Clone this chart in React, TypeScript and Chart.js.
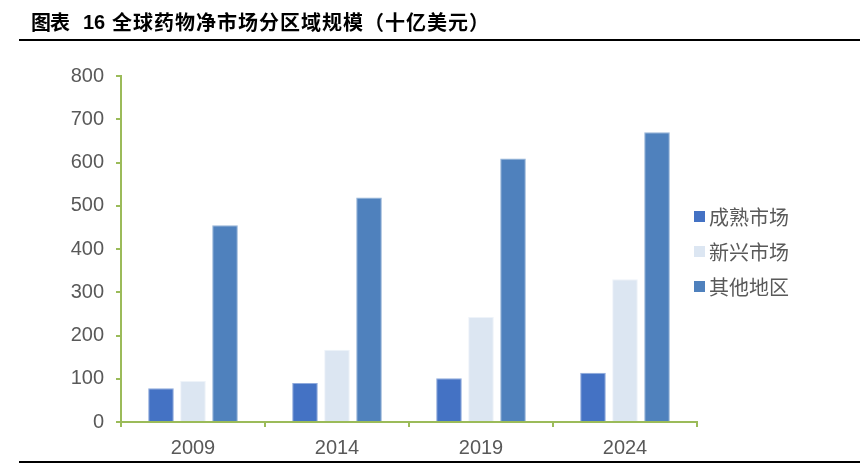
import React, { useEffect, useRef } from "react";
import { Chart, registerables } from "chart.js";

Chart.register(...registerables);

const categories = ["2009", "2014", "2019", "2024"];
const seriesNames = ["成熟市场", "新兴市场", "其他地区"];
const matureValues = [78, 90, 101, 114];
const emergingValues = [95, 167, 243, 330];
const otherValues = [455, 519, 609, 670];
const seriesColors = ["#4472C4", "#DCE6F2", "#4F81BD"];
const seriesBorders = ["#8FAADC", "#EEF3F9", "#95B3D7"];
const yTicks = [0, 100, 200, 300, 400, 500, 600, 700, 800];

const axisColor = "#9BBB59";
const textColor = "#595959";
const cjk = "'Noto Sans CJK SC', sans-serif";

export default function App() {
  const canvasRef = useRef<HTMLCanvasElement | null>(null);

  useEffect(() => {
    document.body.style.margin = "0";
    const ctx = canvasRef.current!;
    const values = [matureValues, emergingValues, otherValues];
    const chart = new Chart(ctx, {
      type: "bar",
      data: {
        labels: categories,
        datasets: seriesNames.map((name, i) => ({
          label: name,
          data: values[i],
          backgroundColor: seriesColors[i],
          borderColor: seriesBorders[i],
          borderWidth: 1,
          categoryPercentage: 0.667,
          barPercentage: 0.8,
        })),
      },
      options: {
        animation: false,
        responsive: false,
        maintainAspectRatio: false,
        layout: { padding: { left: 0, right: 163, top: 76, bottom: 0 } },
        plugins: {
          legend: { display: false },
          tooltip: { enabled: false },
          title: { display: false },
        },
        scales: {
          x: {
            grid: {
              display: true,
              drawOnChartArea: false,
              drawTicks: true,
              tickLength: 5,
              color: axisColor,
              lineWidth: 2,
              offset: true,
            },
            border: { display: true, color: axisColor, width: 2 },
            ticks: {
              color: textColor,
              font: { family: "Arial, 'Liberation Sans'", size: 20 },
              padding: 9,
            },
            afterFit: (scale: any) => {
              scale.height = 42;
            },
          },
          y: {
            min: 0,
            max: 800,
            afterBuildTicks: (scale: any) => {
              scale.ticks = yTicks.map((v) => ({ value: v }));
            },
            grid: {
              display: true,
              drawOnChartArea: false,
              drawTicks: true,
              tickLength: 5,
              color: axisColor,
              lineWidth: 2,
            },
            border: { display: true, color: axisColor, width: 2 },
            ticks: {
              color: textColor,
              font: { family: "Arial, 'Liberation Sans'", size: 20 },
              padding: 12,
            },
            afterFit: (scale: any) => {
              scale.width = 121;
            },
          },
        },
      },
    });
    return () => chart.destroy();
  }, []);

  const titleStyle: React.CSSProperties = {
    position: "absolute",
    top: 8,
    fontFamily: cjk,
    fontWeight: 700,
    fontSize: 20,
    color: "#000",
    whiteSpace: "nowrap",
    lineHeight: "28px",
  };

  return (
    <div style={{ position: "absolute", left: 0, top: 0, width: 860, height: 464, background: "#fff", overflow: "hidden" }}>
      <canvas ref={canvasRef} width={860} height={464} style={{ position: "absolute", left: 0, top: 0, width: 860, height: 464 }} />
      <div style={{ ...titleStyle, left: 31, letterSpacing: "-1px" }}>图表</div>
      <div style={{ ...titleStyle, left: 83, fontFamily: "Arial, 'Liberation Sans'" }}>16</div>
      <div style={{ ...titleStyle, left: 112, letterSpacing: "1px" }}>全球药物净市场分区域规模（十亿美元）</div>
      <div style={{ position: "absolute", left: 19, right: 0, top: 39, height: 1.5, background: "#000" }} />
      <div style={{ position: "absolute", left: 19, right: 0, top: 461, height: 1.5, background: "#000" }} />
      <div style={{ position: "absolute", left: 694, top: 199 }}>
        {seriesNames.map((name, i) => (
          <div key={name} style={{ display: "flex", alignItems: "center", height: 35 }}>
            <div style={{ width: 11, height: 11, background: seriesColors[i], marginRight: 4 }} />
            <span
              style={{
                fontFamily: cjk,
                fontSize: 20,
                color: textColor,
                whiteSpace: "nowrap",
                lineHeight: "35px",
              }}
            >
              {name}
            </span>
          </div>
        ))}
      </div>
    </div>
  );
}
